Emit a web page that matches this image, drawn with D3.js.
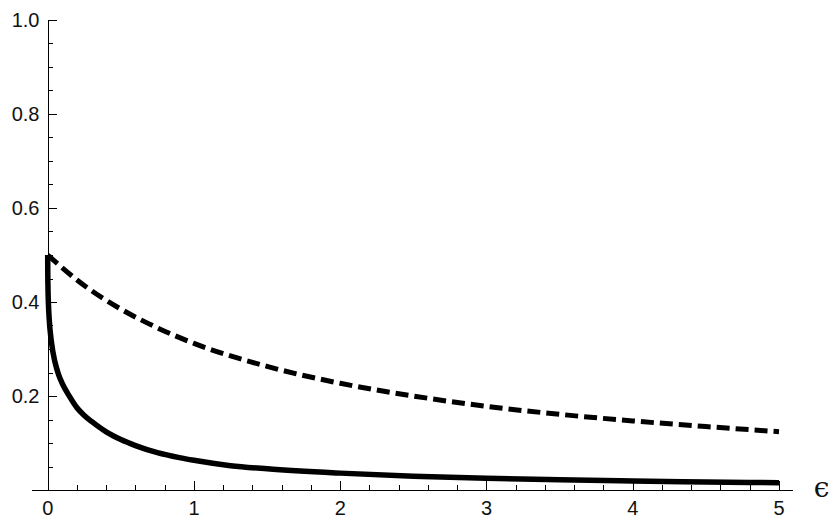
<!DOCTYPE html>
<html><head><meta charset="utf-8">
<script src="https://cdn.jsdelivr.net/npm/d3@7"></script>
<style>body{margin:0;background:#fff}svg{display:block}</style>
</head><body>
<script>
// Data
const epsSolid = [0, 0.0005, 0.002, 0.005, 0.01, 0.025, 0.05, 0.075, 0.1, 0.15, 0.2, 0.25, 0.3, 0.4, 0.5, 0.6, 0.75, 0.9, 1, 1.25, 1.5, 2, 2.5, 3, 3.5, 4, 4.5, 5];
const valSolid = [0.5, 0.462, 0.429, 0.396, 0.365, 0.316, 0.272, 0.245, 0.2265, 0.1986, 0.175, 0.1586, 0.1459, 0.1237, 0.1073, 0.0945, 0.0795, 0.0689, 0.0632, 0.0518, 0.045, 0.0359, 0.0295, 0.025, 0.0217, 0.0191, 0.0171, 0.0155];
const epsDashed = [0, 0.25, 0.5, 0.75, 1, 1.5, 2, 2.5, 3, 3.5, 4, 4.5, 5];
const valDashed = [0.5, 0.435, 0.385, 0.345, 0.312, 0.263, 0.227, 0.2, 0.178, 0.161, 0.147, 0.135, 0.124];
const xMajor = [0, 1, 2, 3, 4, 5];
const xMajorLabels = ["0", "1", "2", "3", "4", "5"];
const yMajor = [0.2, 0.4, 0.6, 0.8, 1.0];
const yMajorLabels = ["0.2", "0.4", "0.6", "0.8", "1.0"];
const xLabel = "\u03F5";

const W = 834, H = 526;
const svg = d3.select("body").append("svg").attr("width", W).attr("height", H);
const x = d3.scaleLinear().domain([0, 5]).range([47.7, 779]);
const y = d3.scaleLinear().domain([0, 1]).range([490, 20]);

const xMinor = d3.range(0, 5.0001, 0.2).filter(v => Math.abs(v - Math.round(v)) > 1e-6);
const yMinor = d3.range(0.05, 1.0001, 0.05).filter(v => Math.abs(v * 5 - Math.round(v * 5)) > 1e-6);

const axes = svg.append("g").attr("stroke", "#000").attr("stroke-width", 1).attr("shape-rendering", "crispEdges");
axes.append("line").attr("x1", 32).attr("x2", 793).attr("y1", Math.round(y(0)) + 0.5).attr("y2", Math.round(y(0)) + 0.5);
axes.append("line").attr("x1", Math.round(x(0)) + 0.5).attr("x2", Math.round(x(0)) + 0.5).attr("y1", y(1)).attr("y2", y(0));
xMajor.forEach(v => axes.append("line").attr("x1", Math.round(x(v)) + 0.5).attr("x2", Math.round(x(v)) + 0.5).attr("y1", y(0)).attr("y2", y(0) - 9));
xMinor.forEach(v => axes.append("line").attr("x1", Math.round(x(v)) + 0.5).attr("x2", Math.round(x(v)) + 0.5).attr("y1", y(0)).attr("y2", y(0) - 5));
yMajor.forEach(v => axes.append("line").attr("y1", Math.round(y(v)) + 0.5).attr("y2", Math.round(y(v)) + 0.5).attr("x1", x(0)).attr("x2", x(0) + 9));
yMinor.forEach(v => axes.append("line").attr("y1", Math.round(y(v)) + 0.5).attr("y2", Math.round(y(v)) + 0.5).attr("x1", x(0)).attr("x2", x(0) + 5));

const font = "'Liberation Sans', Arial, sans-serif";
svg.selectAll(".xl").data(xMajor).enter().append("text")
  .attr("x", d => x(d)).attr("y", 515).attr("text-anchor", "middle")
  .attr("font-family", font).attr("font-size", 20).attr("fill", "#111")
  .text((d, i) => xMajorLabels[i]);
svg.selectAll(".yl").data(yMajor).enter().append("text")
  .attr("x", 39.5).attr("y", d => y(d) + 7).attr("text-anchor", "end")
  .attr("font-family", font).attr("font-size", 20).attr("fill", "#111")
  .text((d, i) => yMajorLabels[i]);
svg.append("text").attr("x", 821.5).attr("y", 497).attr("text-anchor", "middle")
  .attr("font-family", "'DejaVu Serif', serif").attr("font-size", 28).attr("fill", "#111")
  .text(xLabel);

const line = d3.line().x(d => x(d[0])).y(d => y(d[1])).curve(d3.curveMonotoneX);
svg.append("path").datum(epsDashed.map((e, i) => [e, valDashed[i]]))
  .attr("d", line).attr("fill", "none").attr("stroke", "#000").attr("stroke-width", 5)
  .attr("stroke-dasharray", "13,6");
svg.append("path").datum(epsSolid.map((e, i) => [e, valSolid[i]]))
  .attr("d", line).attr("fill", "none").attr("stroke", "#000").attr("stroke-width", 5.5)
  .attr("stroke-linejoin", "round");
</script>
</body></html>
